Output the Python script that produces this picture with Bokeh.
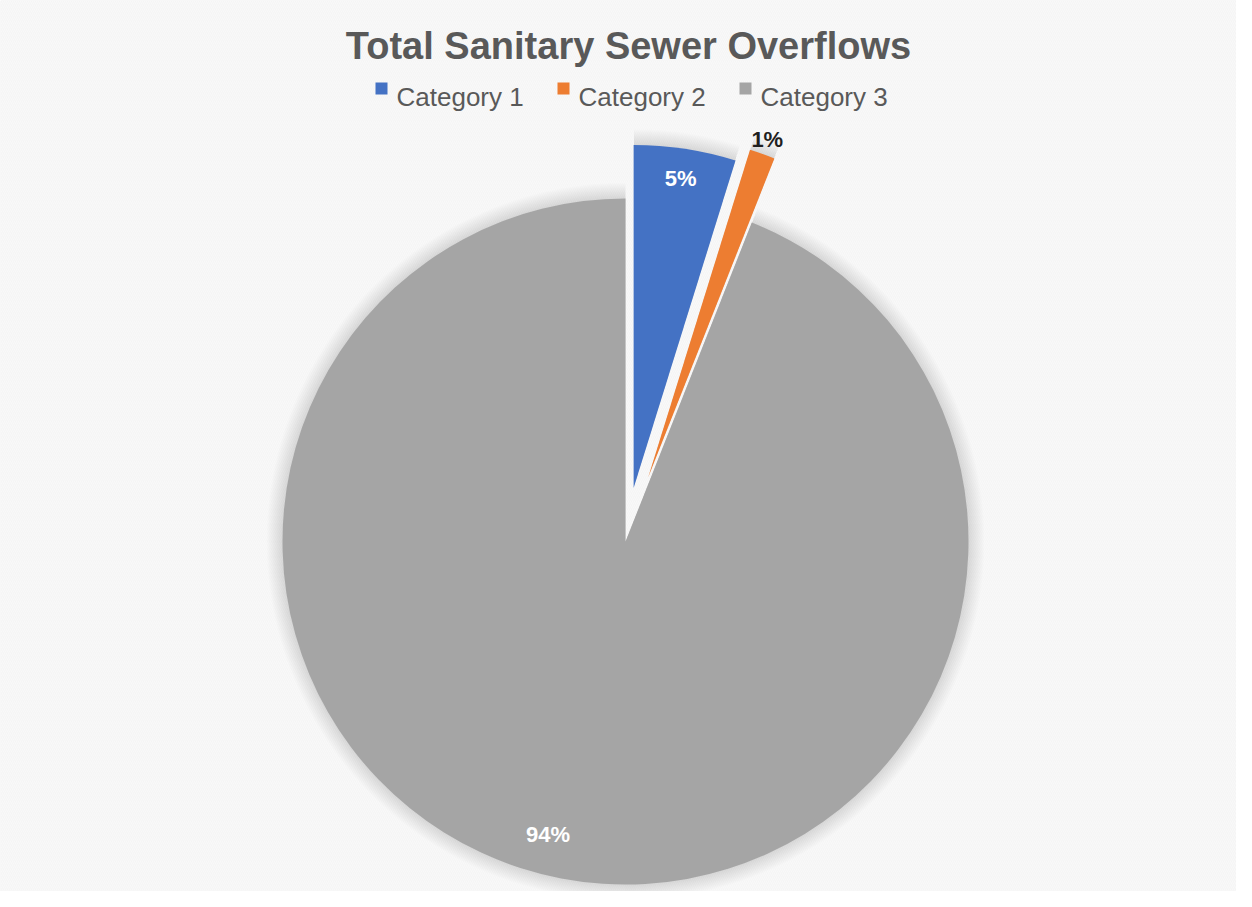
import numpy as np
from bokeh.plotting import figure
from bokeh.models import Range1d, ColumnDataSource
from bokeh.core.properties import value
from bokeh.embed import file_html
from bokeh.resources import INLINE

# ---- data ----
title_text = "Total Sanitary Sewer Overflows"
categories = ["Category 1", "Category 2", "Category 3"]
shares = [4.8, 1.2, 94.0]
colors = ["#4472C4", "#ED7D31", "#A5A5A5"]

# ---- style ----
explode = np.array([54.0, 68.0, 0.0])
label_r = np.array([313.0, 358.0, 303.0])
label_nudge = np.array([0.0, 0.0, -4.0])
label_colors = ["white", "#1f1f1f", "white"]

W, H = 1236, 891
TOP = 907
p = figure(width=W, height=H, x_range=Range1d(0, W), y_range=Range1d(TOP - H, TOP),
           output_backend="svg", toolbar_location=None, x_axis_type=None, y_axis_type=None,
           min_border=0, outline_line_color=None, background_fill_color="#f3f3f3",
           border_fill_color="#f3f3f3")
p.grid.visible = False

def py(v):
    # convert a top-down page coordinate to the data y used here
    return TOP - v

# background texture
p.quad(left=[0], right=[W], bottom=[TOP - H], top=[TOP], fill_color="#f3f3f3",
       line_color=None, hatch_pattern="\\", hatch_color="#fafafa", hatch_scale=4,
       hatch_weight=1.2, hatch_alpha=0.9)

cx, cy, R = 625.0, py(541), 343.0
frac = np.array(shares) / sum(shares)
cum = np.cumsum(frac)
end = 90 - 360 * (cum - frac)
start = 90 - 360 * cum
mid = (start + end) / 2
mr = np.deg2rad(mid)
xs = cx + explode * np.cos(mr)
ys = cy + explode * np.sin(mr)

src = ColumnDataSource(dict(x=xs, y=ys, start=np.deg2rad(start), end=np.deg2rad(end),
                            color=colors, cat=categories))

# soft shadow
for k in range(1, 17):
    p.wedge(x="x", y="y", radius=R + k, start_angle="start", end_angle="end",
            direction="anticlock", source=src,
            fill_color="black", fill_alpha=0.008, line_color=None)

p.wedge(x="x", y="y", radius=R, start_angle="start", end_angle="end",
        direction="anticlock", source=src, fill_color="color", line_color=None)

la = np.deg2rad(mid + label_nudge)
lx = xs + label_r * np.cos(la)
ly = ys + label_r * np.sin(la)
labels = [f"{round(s)}%" for s in shares]
p.text(x=lx, y=ly, text=labels, text_align="center", text_baseline="middle",
       text_font=value("Liberation Sans"), text_font_style="bold", text_font_size="22px",
       text_color=label_colors)

# title
p.text(x=[628], y=[py(45)], text=[title_text], text_align="center", text_baseline="alphabetic",
       text_font=value("Liberation Sans"), text_font_style="bold", text_font_size="38px",
       text_color="#595959")

# legend
lg_x0, lg_step = 375, 182
lg_x = np.array([lg_x0 + i * lg_step for i in range(len(categories))], dtype=float)
p.rect(x=lg_x + 6, y=[py(88)] * 3, width=12, height=12, fill_color=colors, line_color=None)
p.text(x=lg_x + 21, y=[py(96)] * 3, text=categories, text_align="left",
       text_baseline="alphabetic", text_font=value("Liberation Sans"), text_font_size="26px",
       text_color="#595959")

open("out.html", "w").write(file_html(p, INLINE))
